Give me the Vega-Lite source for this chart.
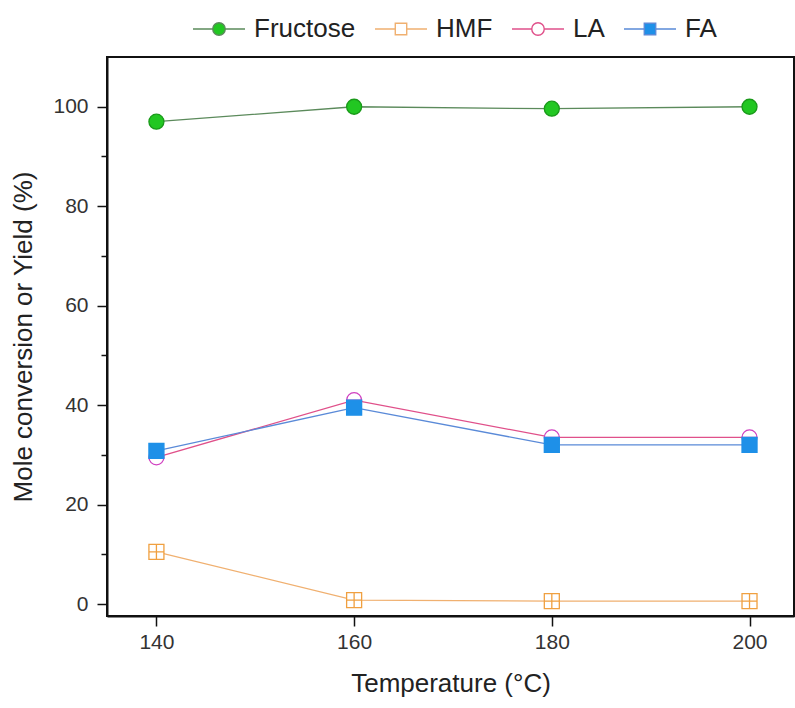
{
  "$schema": "https://vega.github.io/schema/vega-lite/v6.json",
  "width": 687,
  "height": 559,
  "autosize": {"type": "none"},
  "padding": {"left": 107, "top": 57, "right": 1, "bottom": 92},
  "background": "white",
  "config": {
    "font": "Liberation Sans",
    "view": {"stroke": "#111", "strokeWidth": 2},
    "axis": {"grid": false, "domainColor": "#111", "domainWidth": 2, "tickColor": "#111", "tickWidth": 1.5, "labelColor": "#333", "titleColor": "#222", "labelFont": "Liberation Sans", "titleFont": "Liberation Sans", "titleFontWeight": "normal"}
  },
  "data": {"values": [
    {"T": 140, "v": 97.0, "s": "Fructose"},
    {"T": 160, "v": 100.0, "s": "Fructose"},
    {"T": 180, "v": 99.6, "s": "Fructose"},
    {"T": 200, "v": 100.0, "s": "Fructose"},
    {"T": 140, "v": 10.5, "s": "HMF"},
    {"T": 160, "v": 0.8, "s": "HMF"},
    {"T": 180, "v": 0.6, "s": "HMF"},
    {"T": 200, "v": 0.6, "s": "HMF"},
    {"T": 140, "v": 29.5, "s": "LA"},
    {"T": 160, "v": 41.0, "s": "LA"},
    {"T": 180, "v": 33.5, "s": "LA"},
    {"T": 200, "v": 33.5, "s": "LA"},
    {"T": 140, "v": 30.8, "s": "FA"},
    {"T": 160, "v": 39.5, "s": "FA"},
    {"T": 180, "v": 32.0, "s": "FA"},
    {"T": 200, "v": 32.0, "s": "FA"}
  ]},
  "encoding": {
    "x": {"field": "T", "type": "quantitative", "scale": {"domain": [135, 204.5], "nice": false, "zero": false},
      "axis": {"values": [140, 160, 180, 200], "tickSize": 10, "labelFontSize": 21, "labelPadding": 5, "title": "Temperature (°C)", "titleFontSize": 26, "titlePadding": 18}},
    "y": {"field": "v", "type": "quantitative", "scale": {"domain": [-2.4, 110], "nice": false, "zero": false},
      "axis": {"values": [0, 10, 20, 30, 40, 50, 60, 70, 80, 90, 100], "labelExpr": "datum.value % 20 === 0 ? datum.label : ''",
        "tickSize": {"condition": {"test": "datum.value % 20 === 0", "value": 10}, "value": 6},
        "labelFontSize": 21, "labelPadding": 9, "title": "Mole conversion or Yield (%)", "titleFontSize": 26, "titlePadding": 16}}
  },
  "layer": [
    {
      "mark": {"type": "line", "strokeWidth": 1.3},
      "encoding": {
        "stroke": {"field": "s", "type": "nominal",
          "scale": {"domain": ["Fructose", "HMF", "LA", "FA"], "range": ["#5b8a5b", "#f0b070", "#e0508a", "#5a8ad8"]},
          "legend": {
            "orient": "none", "legendX": 85, "legendY": -55, "direction": "horizontal", "title": null,
            "labelFontSize": 26, "labelColor": "#222", "labelFont": "Liberation Sans", "labelOffset": 8,
            "symbolSize": 2704, "symbolStrokeWidth": 1.4, "columnPadding": 16,
            "encode": {"symbols": {"update": {
              "shape": {"signal": "datum.value === 'Fructose' || datum.value === 'LA' ? 'M-1,0H-0.24M0.24,0H1M-0.24,0A0.24,0.24 0 1,0 0.24,0A0.24,0.24 0 1,0 -0.24,0Z' : 'M-1,0H-0.22M0.22,0H1M-0.22,-0.22H0.22V0.22H-0.22Z'"},
              "fill": {"signal": "datum.value === 'Fructose' ? '#22c722' : datum.value === 'FA' ? '#1e90e8' : '#ffffff'"},
              "stroke": {"signal": "datum.value === 'Fructose' ? '#6a9a6a' : datum.value === 'HMF' ? '#f0a850' : datum.value === 'LA' ? '#d050b0' : '#5a9ae0'"}
            }}}
          }}
      }
    },
    {
      "mark": {"type": "point", "filled": false, "strokeWidth": 1.3, "opacity": 1, "size": 225},
      "encoding": {
        "shape": {"field": "s", "type": "nominal", "legend": null,
          "scale": {"domain": ["Fructose", "HMF", "LA", "FA"], "range": ["circle", "M-1,-1H1V1H-1ZM0,-1V1M-1,0H1", "M-1,0A1,1 0 1,0 1,0A1,1 0 1,0 -1,0ZM-1,0H1", "square"]}},
        "fill": {"field": "s", "type": "nominal", "legend": null,
          "scale": {"domain": ["Fructose", "HMF", "LA", "FA"], "range": ["#22c722", "#ffffff", "#ffffff", "#1e90e8"]}},
        "stroke": {"field": "s", "type": "nominal", "legend": null,
          "scale": {"domain": ["Fructose", "HMF", "LA", "FA"], "range": ["#1a9a1a", "#f0a040", "#d040c0", "#1e90e8"]}}
      }
    }
  ],
  "resolve": {"scale": {"stroke": "independent"}}
}
